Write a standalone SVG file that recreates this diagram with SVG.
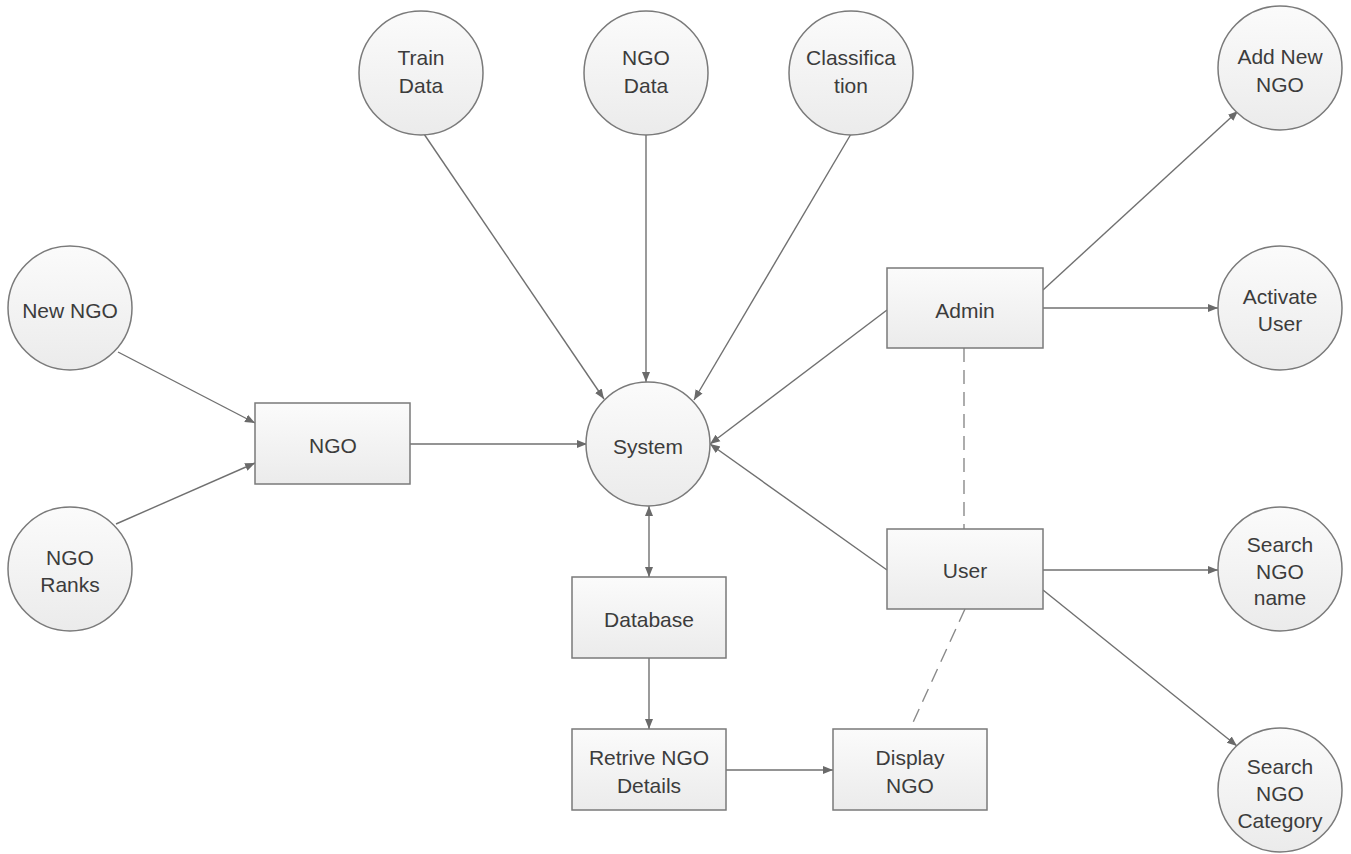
<svg xmlns="http://www.w3.org/2000/svg" width="1351" height="854" viewBox="0 0 1351 854">
  <style>
    .bubble { fill: url(#shade); stroke: #7a7a7a; stroke-width: 1.5; }
    .box { fill: url(#shade); stroke: #7a7a7a; stroke-width: 1.5; }
    .label { font-family: "Liberation Sans", Arial, sans-serif; font-size: 21px; fill: #3c3c3c; text-anchor: middle; }
    .flow { stroke: #707070; stroke-width: 1.4; fill: none; marker-end: url(#arrow); }
    .both { marker-start: url(#arrowStart); }
    .link { stroke: #8a8a8a; stroke-width: 1.4; fill: none; stroke-dasharray: 14 8; }
  </style>
  <defs>
    <linearGradient id="shade" x1="0" y1="0" x2="0" y2="1">
      <stop offset="0" stop-color="#fbfbfb"/>
      <stop offset="1" stop-color="#ebebeb"/>
    </linearGradient>
    <marker id="arrow" viewBox="0 0 10 10" refX="10" refY="5" markerWidth="10" markerHeight="10" markerUnits="userSpaceOnUse" orient="auto">
      <path d="M0,1 L10,5 L0,9 z" fill="#6a6a6a"/>
    </marker>
    <marker id="arrowStart" viewBox="0 0 10 10" refX="0" refY="5" markerWidth="10" markerHeight="10" markerUnits="userSpaceOnUse" orient="auto">
      <path d="M10,1 L0,5 L10,9 z" fill="#6a6a6a"/>
    </marker>
  </defs>
  <rect width="1351" height="854" fill="#ffffff"/>

  <g id="connectors">
    <line class="flow" x1="424" y1="134" x2="604" y2="399"/>
    <line class="flow" x1="646" y1="135" x2="646" y2="382"/>
    <line class="flow" x1="851" y1="134" x2="694" y2="400"/>
    <line class="flow" x1="118" y1="352" x2="255" y2="423"/>
    <line class="flow" x1="116" y1="524" x2="255" y2="463"/>
    <line class="flow" x1="410" y1="444" x2="587" y2="444"/>
    <line class="flow" x1="887" y1="310" x2="710" y2="444"/>
    <line class="flow" x1="887" y1="570" x2="710" y2="444"/>
    <line class="flow both" x1="649" y1="506" x2="649" y2="577"/>
    <line class="flow" x1="649" y1="658" x2="649" y2="729"/>
    <line class="flow" x1="726" y1="770" x2="833" y2="770"/>
    <line class="flow" x1="1043" y1="290" x2="1238" y2="111"/>
    <line class="flow" x1="1043" y1="308" x2="1218" y2="308"/>
    <line class="flow" x1="1043" y1="570" x2="1218" y2="570"/>
    <line class="flow" x1="1043" y1="590" x2="1237" y2="746"/>
    <line class="link" x1="964" y1="348" x2="964" y2="529"/>
    <line class="link" x1="965" y1="609" x2="910" y2="729"/>
  </g>

  <g id="train-data">
    <circle class="bubble" cx="421" cy="73" r="62"/>
    <text class="label" x="421" y="65">Train</text>
    <text class="label" x="421" y="93">Data</text>
  </g>
  <g id="ngo-data">
    <circle class="bubble" cx="646" cy="73" r="62"/>
    <text class="label" x="646" y="65">NGO</text>
    <text class="label" x="646" y="93">Data</text>
  </g>
  <g id="classification">
    <circle class="bubble" cx="851" cy="73" r="62"/>
    <text class="label" x="851" y="65">Classifica</text>
    <text class="label" x="851" y="93">tion</text>
  </g>
  <g id="add-new-ngo">
    <circle class="bubble" cx="1280" cy="68" r="62"/>
    <text class="label" x="1280" y="64">Add New</text>
    <text class="label" x="1280" y="92">NGO</text>
  </g>
  <g id="activate-user">
    <circle class="bubble" cx="1280" cy="308" r="62"/>
    <text class="label" x="1280" y="304">Activate</text>
    <text class="label" x="1280" y="331">User</text>
  </g>
  <g id="new-ngo">
    <circle class="bubble" cx="70" cy="308" r="62"/>
    <text class="label" x="70" y="318">New NGO</text>
  </g>
  <g id="ngo-ranks">
    <circle class="bubble" cx="70" cy="569" r="62"/>
    <text class="label" x="70" y="565">NGO</text>
    <text class="label" x="70" y="592">Ranks</text>
  </g>
  <g id="system">
    <circle class="bubble" cx="648" cy="444" r="62"/>
    <text class="label" x="648" y="454">System</text>
  </g>
  <g id="search-ngo-name">
    <circle class="bubble" cx="1280" cy="569" r="62"/>
    <text class="label" x="1280" y="552">Search</text>
    <text class="label" x="1280" y="579">NGO</text>
    <text class="label" x="1280" y="605">name</text>
  </g>
  <g id="search-ngo-category">
    <circle class="bubble" cx="1280" cy="790" r="62"/>
    <text class="label" x="1280" y="774">Search</text>
    <text class="label" x="1280" y="801">NGO</text>
    <text class="label" x="1280" y="828">Category</text>
  </g>

  <g id="ngo">
    <rect class="box" x="255" y="403" width="155" height="81"/>
    <text class="label" x="333" y="453">NGO</text>
  </g>
  <g id="admin">
    <rect class="box" x="887" y="268" width="156" height="80"/>
    <text class="label" x="965" y="318">Admin</text>
  </g>
  <g id="user">
    <rect class="box" x="887" y="529" width="156" height="80"/>
    <text class="label" x="965" y="578">User</text>
  </g>
  <g id="database">
    <rect class="box" x="572" y="577" width="154" height="81"/>
    <text class="label" x="649" y="627">Database</text>
  </g>
  <g id="retrive-ngo-details">
    <rect class="box" x="572" y="729" width="154" height="81"/>
    <text class="label" x="649" y="765">Retrive NGO</text>
    <text class="label" x="649" y="793">Details</text>
  </g>
  <g id="display-ngo">
    <rect class="box" x="833" y="729" width="154" height="81"/>
    <text class="label" x="910" y="765">Display</text>
    <text class="label" x="910" y="793">NGO</text>
  </g>
</svg>
